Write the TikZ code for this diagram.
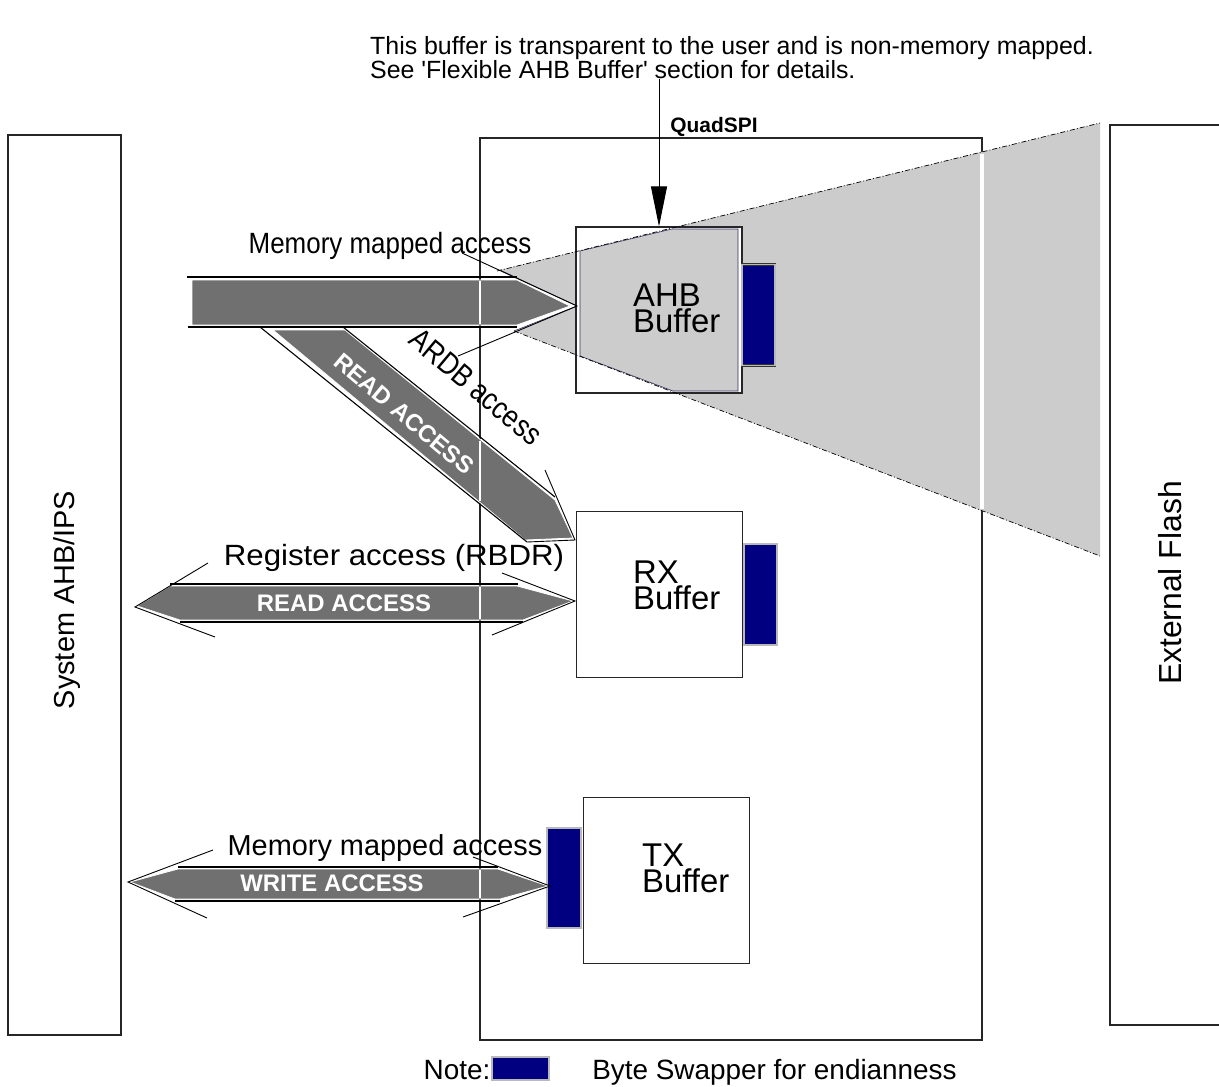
\documentclass[tikz,border=0pt]{standalone}
\usepackage{fontspec}
\usepackage{graphicx}
\setmainfont{Liberation Sans}
\usetikzlibrary{arrows.meta}
\definecolor{bandgray}{RGB}{112,112,112}
\definecolor{conegray}{RGB}{204,204,204}
\definecolor{bsnavy}{RGB}{0,0,128}
\definecolor{edgeblue}{RGB}{50,50,95}
\newcommand{\fsz}[1]{\fontsize{#1}{#1}\selectfont}

\begin{document}
\begin{tikzpicture}[x=1bp, y=-1bp,
  frame/.style={draw=black!85, line width=1.1pt, inner sep=0pt},
  bufbox/.style={frame, fill=white, minimum width=166bp, minimum height=166bp},
  swapper/.style={draw=black!80, double=gray!55, double distance=1.2pt, line width=0.5pt, fill=bsnavy, inner sep=0pt, minimum width=33bp, minimum height=101bp},
  buftext/.style={font=\fontsize{33}{26}\selectfont, align=left, inner sep=0pt},
  band/.style={fill=bandgray, draw=white, line width=0.8pt},
  edge/.style={line width=1.1pt},
  barb/.style={line width=0.9pt},
  gap/.style={white, line width=2pt},
  bandtext/.style={white, font=\fsz{24}\bfseries, inner sep=0pt},
  lbl/.style={font=\fsz{28}, inner sep=0pt}
]
\useasboundingbox (0,0) rectangle (1219,1087);

% side blocks
\node[frame, minimum width=113bp, minimum height=900bp] (sys) at (64.5,585) {};
\node[lbl, font=\fsz{29}, rotate=90] (syslbl) at (67,600) {System AHB/IPS};
\node[frame, minimum width=140bp, minimum height=900bp] (ext) at (1180,575) {};
\node[lbl, font=\fsz{32}, rotate=90] (extlbl) at (1170,583) {External Flash};

% controller
\node[frame, minimum width=502bp, minimum height=902bp] (qspi) at (731,589) {};
\node[font=\fsz{21}\bfseries, anchor=base, inner sep=0pt] (qspilbl) at (714,132) {QuadSPI};

% view of the flash through the AHB buffer
\fill[conegray] (500,270) -- (1100,123) -- (1100,556) -- (514,331) -- (577,306) -- cycle;
\draw[edgeblue, line width=0.6pt] (500,270) -- (577,306) -- (514,331);
\draw[gap, line width=4bp] (982,154) -- (982,509);

% AHB buffer
\node[bufbox] (ahb) at (659,310) {};
\filldraw[fill=conegray, draw=edgeblue, line width=0.6pt] (580,251) -- (672,229) -- (738,229) -- (738,391) -- (673,391) -- (580,356) -- cycle;
\draw[line width=0.7pt, dash pattern=on 5bp off 2bp on 1bp off 2bp] (497,271) -- (1100,123) (514,331) -- (1100,556);
\node[buftext, anchor=west] (ahbtxt) at (633,308) {AHB\\Buffer};
\node[swapper] (ahbsw) at (758.5,315) {};

% RX and TX buffers
\node[bufbox] (rx) at (659.5,594.5) {};
\node[buftext, anchor=west] (rxtxt) at (633,585) {RX\\Buffer};
\node[swapper] (rxsw) at (760.5,594.5) {};
\node[bufbox] (tx) at (666.5,880.5) {};
\node[buftext, anchor=west] (txtxt) at (642,868) {TX\\Buffer};
\node[swapper, minimum width=34bp, minimum height=100bp] (txsw) at (564,878) {};

% memory mapped read
\filldraw[band] (192,280) -- (517,280) -- (570,306) -- (517,325) -- (192,325) -- cycle;
\draw[edge] (187,277) -- (517,277) (188,327) -- (517,327);
\draw[barb] (462,253) -- (577,306) -- (458,356);
\draw[gap] (480,281) -- (480,324);
\node[lbl, anchor=base] (mmtoplbl) at (390,253) {\scalebox{0.93}[1.05]{Memory mapped access}};

% ARDB read
\filldraw[band] (273,330) -- (345,330) -- (555,500) -- (573,538) -- (525,540) -- cycle;
\draw[edge] (260,327) -- (527,542) (343,327) -- (555,497);
\draw[barb] (545,470) -- (575,540) -- (527,542);
\draw[gap] (480,441) -- (480,501);
\node[bandtext, rotate=-40] (rdlbl) at (404,414) {READ ACCESS};
\node[lbl, font=\fsz{31}, rotate=-40] (ardblbl) at (476,387) {\scalebox{0.85}[1]{ARDB access}};

% register read
\filldraw[band] (170,586) -- (517,586) -- (573,601) -- (523,620) -- (180,620) -- (137,606) -- cycle;
\draw[edge] (170,584) -- (518,584) (180,622) -- (523,622);
\draw[barb] (208,563) -- (135,607) -- (215,637) (502,573) -- (575,601) -- (492,635);
\draw[gap] (480,587) -- (480,619);
\node[bandtext, anchor=base] (rbdrlbl) at (344,611) {READ ACCESS};
\node[lbl, anchor=base] (reglbl) at (394,565) {\scalebox{1.12}[1.05]{Register access (RBDR)}};

% memory mapped write
\filldraw[band] (178,869) -- (498,869) -- (548,886) -- (500,899) -- (175,899) -- (130,882) -- cycle;
\draw[edge] (178,867) -- (498,867) (175,901) -- (500,901);
\draw[barb] (213,850) -- (128,882) -- (207,918) (473,857) -- (550,886) -- (463,917);
\draw[gap] (480,870) -- (480,898);
\node[bandtext, anchor=base] (wrlbl) at (332,891) {WRITE ACCESS};
\node[lbl, font=\fsz{29}, anchor=base] (mmlbl) at (385,855) {Memory mapped access};

% note on the AHB buffer
\node[font=\fontsize{25}{22}\selectfont, align=left, anchor=north west, inner sep=0pt] (note) at (370,36)
  {This buffer is transparent to the user and is non-memory mapped.\\See \textquotesingle Flexible AHB Buffer\textquotesingle{} section for details.};
\draw[-{Triangle[length=40bp,width=16bp]}, line width=0.8pt] (ahb.north |- note.south) -- (ahb.north);

% legend
\node[lbl, anchor=base] (notelbl) at (457,1079) {Note:};
\node[swapper, minimum width=57bp, minimum height=23bp] (legsw) at (520.5,1068.5) {};
\node[lbl, anchor=base] (leglbl) at (774.5,1079) {Byte Swapper for endianness};
\end{tikzpicture}
\end{document}
